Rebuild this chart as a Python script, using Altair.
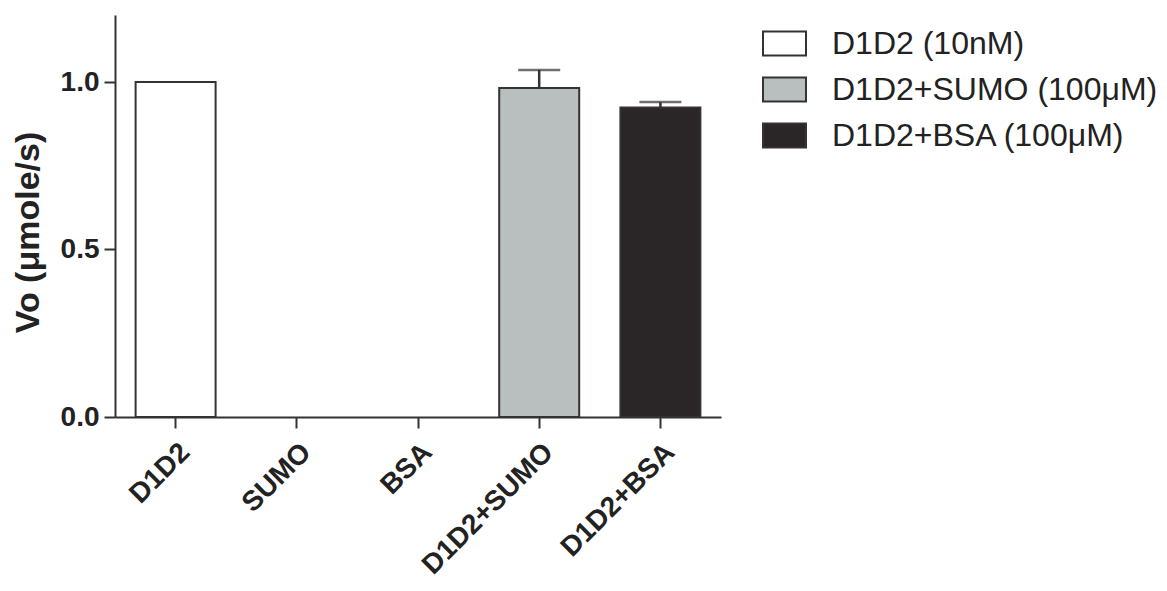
import altair as alt
import pandas as pd

categories = ["D1D2", "SUMO", "BSA", "D1D2+SUMO", "D1D2+BSA"]
values = [1.0, 0.0, 0.0, 0.982, 0.924]
errors = [0.0, 0.0, 0.0, 0.054, 0.016]
groups = ["D1D2 (10nM)", None, None, "D1D2+SUMO (100μM)", "D1D2+BSA (100μM)"]
legend_labels = ["D1D2 (10nM)", "D1D2+SUMO (100μM)", "D1D2+BSA (100μM)"]
legend_colors = ["#ffffff", "#b9bebe", "#2a2526"]

rows = []
for c, v, e, g in zip(categories, values, errors, groups):
    if g is None:
        continue
    rows.append({"cat": c, "val": v, "err": e, "top": v + e, "grp": g})
df = pd.DataFrame(rows)
df_err = df[df["err"] > 0]

FONT = "Liberation Sans"
INK = "#333333"

xenc = alt.X(
    "cat:N",
    sort=categories,
    scale=alt.Scale(domain=categories, paddingInner=0.34, paddingOuter=0.17),
    axis=alt.Axis(
        title=None,
        labelAngle=-45,
        labelAlign="right",
        labelBaseline="top",
        labelFont=FONT,
        labelFontSize=28,
        labelFontWeight="bold",
        labelColor="#222222",
        labelPadding=10,
        tickSize=11,
        tickWidth=2,
        tickColor=INK,
        domainColor=INK,
        domainWidth=2,
        grid=False,
    ),
)

yscale = alt.Scale(domain=[0, 1.2], nice=False)
yaxis = alt.Axis(
    title="Vo (μmole/s)",
    values=[0, 0.5, 1.0],
    format=".1f",
    labelFont=FONT,
    labelFontSize=28,
    labelFontWeight="bold",
    labelColor="#222222",
    labelPadding=5,
    tickSize=11,
    tickWidth=2,
    tickColor=INK,
    domainColor=INK,
    domainWidth=2,
    grid=False,
    titleFont=FONT,
    titleFontSize=34,
    titleFontWeight="bold",
    titleColor="#222222",
    titleAngle=-90,
    titleAlign="center",
    titleBaseline="bottom",
    titleX=-70,
    titleY=217,
)

bars = alt.Chart(df).mark_bar(stroke=INK, strokeWidth=2).encode(
    x=xenc,
    y=alt.Y("val:Q", scale=yscale, axis=yaxis),
    fill=alt.Fill(
        "grp:N",
        scale=alt.Scale(domain=legend_labels, range=legend_colors),
        legend=alt.Legend(
            title=None,
            orient="none",
            legendX=647,
            legendY=6,
            padding=0,
            symbolType="M-1,-0.56L1,-0.56L1,0.56L-1,0.56Z",
            symbolSize=1849,
            symbolStrokeColor=INK,
            symbolStrokeWidth=2,
            symbolOpacity=1,
            labelFont=FONT,
            labelFontSize=32,
            labelColor="#222222",
            labelOffset=25,
            labelLimit=400,
            rowPadding=7,
        ),
    ),
)

whisk = alt.Chart(df_err).mark_rule(color=INK, strokeWidth=2.5).encode(
    x=alt.X("cat:N", sort=categories),
    y=alt.Y("val:Q", scale=yscale),
    y2="top:Q",
)

caps = alt.Chart(df_err).mark_tick(color=INK, thickness=2.5, size=42, orient="horizontal").encode(
    x=alt.X("cat:N", sort=categories),
    y=alt.Y("top:Q", scale=yscale),
)

chart = (
    alt.layer(bars, whisk, caps)
    .properties(
        width=606,
        height=402,
        padding={"left": 107, "top": 7, "right": 438, "bottom": 166},
        autosize=alt.AutoSizeParams(type="none"),
        background="#ffffff",
    )
    .configure_view(stroke=None)
)

chart.save("out.html", embed_options={"renderer": "svg", "actions": False})
